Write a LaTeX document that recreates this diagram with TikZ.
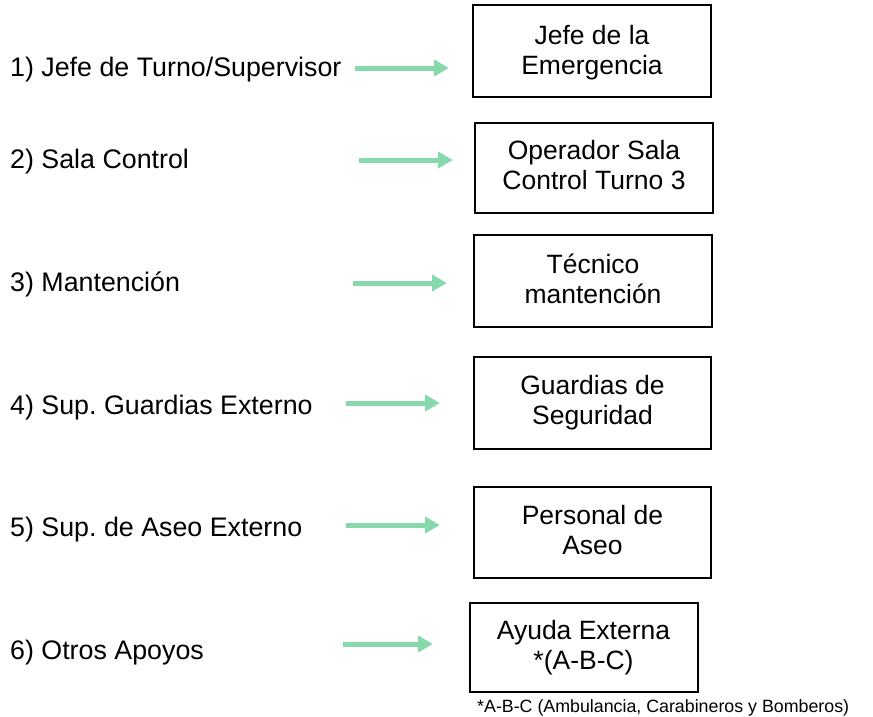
\documentclass[tikz,border=0pt]{standalone}
\usepackage{fontspec}
\setmainfont{Liberation Sans}
\usetikzlibrary{arrows.meta}
\definecolor{arrowgreen}{HTML}{86D9AA}
\frenchspacing
\tikzset{
  lbl/.style={anchor=base west, inner sep=0pt, font=\fontsize{26.8}{30}\selectfont},
  boxnode/.style={draw=black, line width=2pt, align=center, inner sep=0pt,
    font=\fontsize{26.5}{30}\selectfont},
  boxtext/.style={inner sep=0pt, align=center, font=\fontsize{26.5}{30}\selectfont},
  garrow/.style={draw=arrowgreen, line width=5pt,
    -{Triangle[length=15pt,width=16pt]}},
  note/.style={anchor=west, inner sep=0pt, font=\fontsize{17.8}{21}\selectfont}
}
\begin{document}
\begin{tikzpicture}[x=1pt,y=-1pt]
\useasboundingbox (0,0) rectangle (873,716);
% labels
\node[lbl] (l1) at (10,76) {1) Jefe de Turno/Supervisor};
\node[lbl] (l2) at (10,168) {2) Sala Control};
\node[lbl] (l3) at (10,291) {3) Mantención};
\node[lbl] (l4) at (10,414) {4) Sup. Guardias Externo};
\node[lbl] (l5) at (10,536) {5) Sup. de Aseo Externo};
\node[lbl] (l6) at (10,659) {6) Otros Apoyos};
% boxes
\node[boxnode, minimum width=238pt, minimum height=92pt] (b1) at (592,51) {};
\node[boxnode, minimum width=238pt, minimum height=90pt] (b2) at (594,168) {};
\node[boxnode, minimum width=238pt, minimum height=92pt] (b3) at (593,281) {};
\node[boxnode, minimum width=237pt, minimum height=92pt] (b4) at (592.5,403) {};
\node[boxnode, minimum width=237pt, minimum height=91pt] (b5) at (592.5,532.5) {};
\node[boxnode, minimum width=228pt, minimum height=89pt] (b6) at (583.5,647) {};
\node[boxtext] (t1) at ([yshift=-2pt]b1.center) {Jefe de la\\Emergencia};
\node[boxtext] (t2) at ([yshift=3pt]b2.center) {Operador Sala\\Control Turno 3};
\node[boxtext] (t3) at ([yshift=2pt]b3.center) {Técnico\\mantención};
\node[boxtext] (t4) at ([yshift=0pt]b4.center) {Guardias de\\Seguridad};
\node[boxtext] (t5) at ([yshift=2pt]b5.center) {Personal de\\Aseo};
\node[boxtext] (t6) at ([yshift=-1pt]b6.center) {Ayuda Externa\\*(A-B-C)};
% arrows
\coordinate (s1) at (355,68);   \coordinate (e1) at (449,68);
\coordinate (s2) at (359,160);  \coordinate (e2) at (453,160);
\coordinate (s3) at (353,283);  \coordinate (e3) at (447,283);
\coordinate (s4) at (346,403);  \coordinate (e4) at (440,403);
\coordinate (s5) at (346,525);  \coordinate (e5) at (440,525);
\coordinate (s6) at (343,644);  \coordinate (e6) at (433,644);
\draw[garrow] (s1) -- (e1);
\draw[garrow] (s2) -- (e2);
\draw[garrow] (s3) -- (e3);
\draw[garrow] (s4) -- (e4);
\draw[garrow] (s5) -- (e5);
\draw[garrow] (s6) -- (e6);
% footnote
\node[note] (fn) at (477,708) {*A-B-C (Ambulancia, Carabineros y Bomberos)};
\end{tikzpicture}
\end{document}
